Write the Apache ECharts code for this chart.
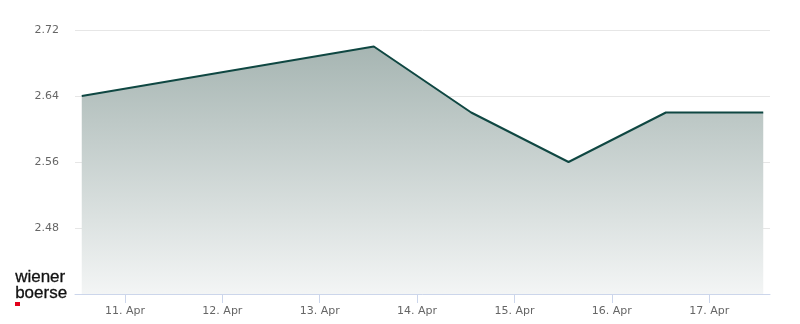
<!DOCTYPE html>
<html>
<head>
<meta charset="utf-8">
<script src="https://cdn.jsdelivr.net/npm/echarts@6/dist/echarts.min.js"></script>
<style>html,body{margin:0;padding:0;background:#fff}#c{width:800px;height:324px}</style>
</head>
<body>
<div id="c"></div>
<script>
const dates = ['2026-04-10T13:20:00Z','2026-04-13T13:20:00Z','2026-04-14T13:20:00Z','2026-04-15T13:20:00Z','2026-04-16T13:20:00Z','2026-04-17T13:20:00Z'];
const prices = [2.64, 2.70, 2.62, 2.56, 2.62, 2.62];
const yTicks = [2.40, 2.48, 2.56, 2.64, 2.72];
const xTickDays = ['2026-04-11','2026-04-12','2026-04-13','2026-04-14','2026-04-15','2026-04-16','2026-04-17'];
const xMin = '2026-04-10T11:40:00Z';
const xMax = '2026-04-17T15:00:00Z';
const monthNames = ['Jan','Feb','Mar','Apr','May','Jun','Jul','Aug','Sep','Oct','Nov','Dec'];

const xTickVals = xTickDays.map(d => new Date(d + 'T00:00:00Z').getTime());

const chart = echarts.init(document.getElementById('c'), null, {renderer: 'canvas'});
chart.setOption({
  animation: false,
  backgroundColor: '#ffffff',
  grid: {left: 75, right: 30, top: 30, bottom: 30, containLabel: false},
  xAxis: {
    type: 'value',
    min: new Date(xMin).getTime(),
    max: new Date(xMax).getTime(),
    axisLine: {show: true, lineStyle: {color: '#ccd6eb', width: 1}},
    axisTick: {show: true, length: 9, customValues: xTickVals, lineStyle: {color: '#ccd6eb'}},
    splitLine: {show: false},
    axisLabel: {
      customValues: xTickVals,
      formatter: function (v) {
        const d = new Date(v);
        return d.getUTCDate() + '. ' + monthNames[d.getUTCMonth()];
      },
      color: '#666666',
      fontSize: 11,
      fontFamily: 'DejaVu Sans',
      margin: 12
    }
  },
  yAxis: {
    type: 'value',
    min: yTicks[0],
    max: yTicks[yTicks.length - 1],
    interval: 0.08,
    axisLine: {show: false},
    axisTick: {show: false},
    splitLine: {show: true, lineStyle: {color: '#e6e6e6', width: 1}},
    axisLabel: {
      showMinLabel: false,
      formatter: v => v.toFixed(2),
      color: '#666666',
      fontSize: 11,
      fontFamily: 'DejaVu Sans',
      margin: 16
    }
  },
  series: [{
    type: 'line',
    data: dates.map((d, i) => [new Date(d).getTime(), prices[i]]),
    showSymbol: false,
    symbol: 'none',
    lineStyle: {color: '#0f4742', width: 2},
    areaStyle: {
      origin: 'start',
      opacity: 1,
      color: new echarts.graphic.LinearGradient(0, 0, 0, 1, [
        {offset: 0, color: '#a6b5b2'},
        {offset: 1, color: '#f3f5f5'}
      ])
    }
  }],
  graphic: [
    {type: 'text', left: 15, top: 269, style: {text: 'wiener', font: '17px "Liberation Sans"', fill: '#111111', stroke: '#111111', lineWidth: 0.3}},
    {type: 'text', left: 15, top: 285, style: {text: 'boerse', font: '17px "Liberation Sans"', fill: '#111111', stroke: '#111111', lineWidth: 0.3}},
    {type: 'rect', shape: {x: 15, y: 302, width: 5, height: 4}, style: {fill: '#e2001a'}}
  ]
});
</script>
</body>
</html>
